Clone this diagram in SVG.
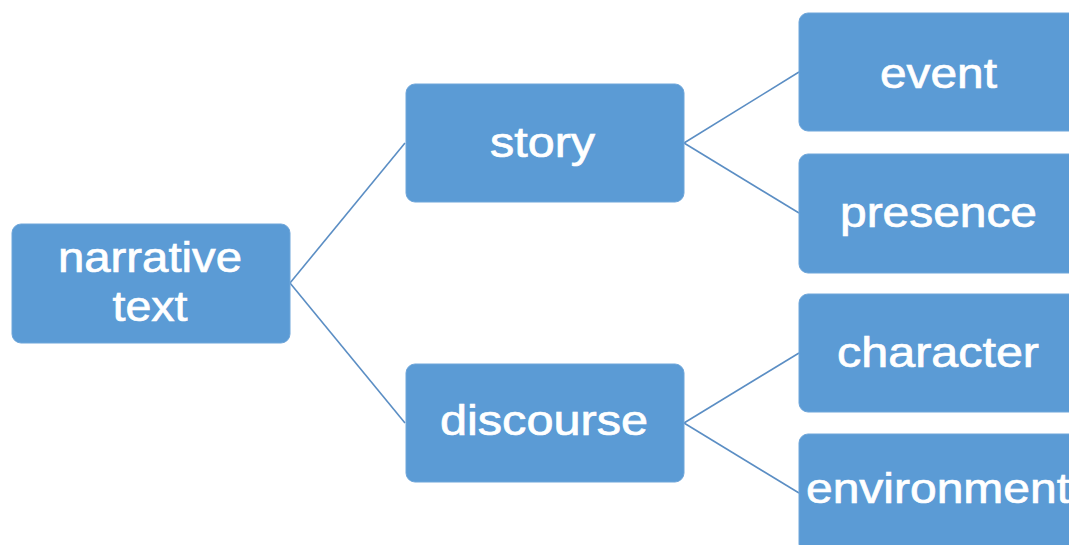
<svg xmlns="http://www.w3.org/2000/svg" width="1069" height="545" viewBox="0 0 1069 545">
<style>
.box{fill:#5B9BD5;stroke:#6FA6DA;stroke-width:1}
.lbl{fill:#FFFFFF;stroke:#FFFFFF;stroke-width:0.7;font-family:"Liberation Sans",Arial,Helvetica,sans-serif;font-size:42px;text-anchor:middle}
.conn{stroke:#5B8EC4;stroke-width:1.6;fill:none}
</style>
<rect width="1069" height="545" fill="#FFFFFF"/>
<g id="connectors">
<path class="conn" d="M290,283 L405,143"/>
<path class="conn" d="M290,283 L405,423"/>
<path class="conn" d="M684,143 L799,72"/>
<path class="conn" d="M684,143 L799,213"/>
<path class="conn" d="M684,423 L799,353"/>
<path class="conn" d="M684,423 L799,493"/>
</g>
<g id="narrative">
<rect class="box" x="12" y="224" width="278" height="119" rx="9"/>
<text class="lbl" x="150" y="272" textLength="184" lengthAdjust="spacingAndGlyphs">narrative</text>
<text class="lbl" x="150" y="321" textLength="75" lengthAdjust="spacingAndGlyphs">text</text>
</g>
<g id="story">
<rect class="box" x="406" y="84" width="278" height="118" rx="9"/>
<text class="lbl" x="542.5" y="157" textLength="105" lengthAdjust="spacingAndGlyphs">story</text>
</g>
<g id="discourse">
<rect class="box" x="406" y="364" width="278" height="118" rx="9"/>
<text class="lbl" x="544" y="435" textLength="208" lengthAdjust="spacingAndGlyphs">discourse</text>
</g>
<g id="event">
<rect class="box" x="799" y="13" width="279" height="118" rx="9"/>
<text class="lbl" x="938.5" y="88" textLength="117" lengthAdjust="spacingAndGlyphs">event</text>
</g>
<g id="presence">
<rect class="box" x="799" y="154" width="279" height="119" rx="9"/>
<text class="lbl" x="938.5" y="227" textLength="197" lengthAdjust="spacingAndGlyphs">presence</text>
</g>
<g id="character">
<rect class="box" x="799" y="294" width="279" height="118" rx="9"/>
<text class="lbl" x="938" y="367" textLength="202" lengthAdjust="spacingAndGlyphs">character</text>
</g>
<g id="environment">
<rect class="box" x="799" y="434" width="279" height="119" rx="9"/>
<text class="lbl" x="938" y="503" textLength="264" lengthAdjust="spacingAndGlyphs">environment</text>
</g>
</svg>
